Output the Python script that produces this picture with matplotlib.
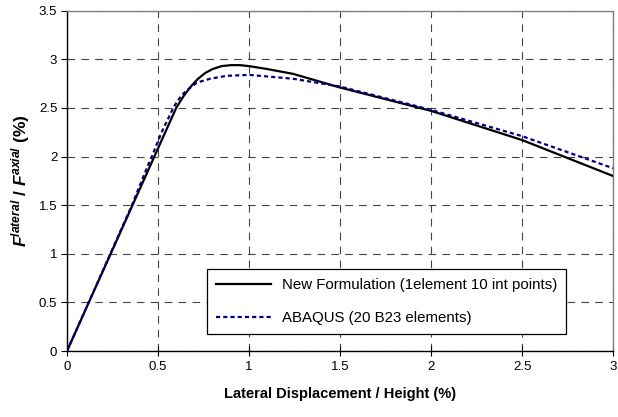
import matplotlib
matplotlib.use("Agg")
import matplotlib.pyplot as plt

plt.rcParams["font.family"] = ["Liberation Sans", "DejaVu Sans"]
plt.rcParams["mathtext.fontset"] = "custom"
plt.rcParams["mathtext.rm"] = "Liberation Sans"
plt.rcParams["mathtext.it"] = "Liberation Sans:italic"
plt.rcParams["mathtext.bf"] = "Liberation Sans:bold"
plt.rcParams["mathtext.bfit"] = "Liberation Sans:italic:bold"
plt.rcParams["lines.scale_dashes"] = False

# Lateral load ratio vs. drift, new beam formulation
new_x = [0.0, 0.48, 0.60, 0.64, 0.68, 0.72, 0.76, 0.80, 0.85, 0.90,
         0.95, 1.0, 1.1, 1.243, 1.5, 2.0, 2.5, 3.0]
new_y = [0.0, 2.0, 2.5, 2.62, 2.72, 2.80, 2.86, 2.90, 2.93, 2.94,
         2.94, 2.93, 2.90, 2.85, 2.71, 2.47, 2.17, 1.80]

# Reference solution from ABAQUS
abq_x = [0.0, 0.35, 0.447, 0.466, 0.52, 0.584, 0.603, 0.63, 0.658,
         0.713, 0.786, 0.877, 1.0, 1.243, 1.5, 2.0, 2.5, 3.0]
abq_y = [0.0, 1.47, 1.92, 2.0, 2.25, 2.5, 2.56, 2.63, 2.68,
         2.76, 2.80, 2.83, 2.84, 2.80, 2.72, 2.48, 2.21, 1.88]

x_ticks = [0, 0.5, 1, 1.5, 2, 2.5, 3]
x_tick_labels = ["0", "0.5", "1", "1.5", "2", "2.5", "3"]
y_ticks = [0, 0.5, 1, 1.5, 2, 2.5, 3, 3.5]
y_tick_labels = ["0", "0.5", "1", "1.5", "2", "2.5", "3", "3.5"]

fig = plt.figure(figsize=(6.18, 4.17), dpi=100)
ax = fig.add_axes([67 / 618, 1 - 351 / 417, (613 - 67) / 618, (351 - 10.7) / 417])

ax.plot(new_x, new_y, color="black", lw=1.6, solid_joinstyle="round",
        label="New Formulation (1element 10 int points)", zorder=3)
ax.plot(abq_x, abq_y, color="#000080", lw=1.6, linestyle=(0, (3, 2.2)),
        label="ABAQUS (20 B23 elements)", zorder=3)

ax.set_xlim(0, 3)
ax.set_ylim(0, 3.5)
ax.set_xticks(x_ticks)
ax.set_xticklabels(x_tick_labels)
ax.set_yticks(y_ticks)
ax.set_yticklabels(y_tick_labels)

ax.grid(True, color="#444444", lw=0.8, linestyle=(0, (5.5, 4.5)))
ax.set_axisbelow(True)

for side in ("top", "right"):
    ax.spines[side].set_color("#808080")
    ax.spines[side].set_linewidth(1.0)
for side in ("left", "bottom"):
    ax.spines[side].set_color("black")
    ax.spines[side].set_linewidth(1.0)

ax.tick_params(axis="y", direction="out", length=4, width=0.8, labelsize=9.5,
               pad=3)
ax.tick_params(axis="x", direction="inout", length=7, width=0.8, labelsize=9.5,
               pad=4)

ax.set_xlabel("Lateral Displacement / Height (%)", fontsize=10.5,
              fontweight="bold", labelpad=10)
ax.set_ylabel(r"$\mathbfit{F}^{\mathbfit{lateral}}\mathbf{\ /\ }"
              r"\mathbfit{F}^{\mathbfit{axial}}\mathbf{\ (\%)}$",
              fontsize=12.5, labelpad=5)

leg = ax.legend(loc="upper left", bbox_to_anchor=(206.7 / 618, 1 - 269.3 / 417),
                bbox_transform=fig.transFigure, fontsize=10.8, frameon=True,
                fancybox=False, edgecolor="black", framealpha=1,
                handlelength=3.7, handletextpad=0.7, labelspacing=1.25,
                borderpad=0.6, borderaxespad=0)
leg.get_frame().set_linewidth(0.9)

fig.savefig("out.png", dpi=100)
